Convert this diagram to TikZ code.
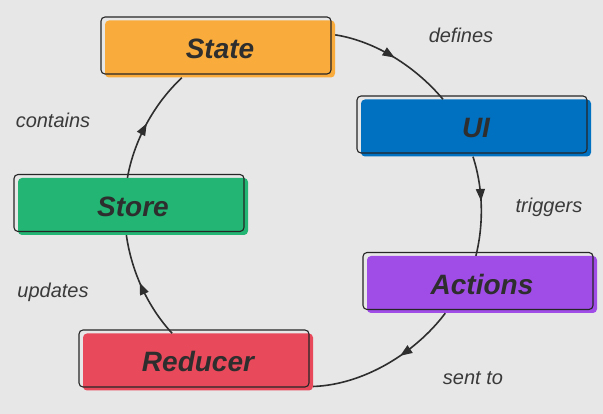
\documentclass[tikz,border=0pt]{standalone}
\usepackage{fontspec}
\setmainfont{Liberation Sans}
\usetikzlibrary{arrows.meta,decorations.markings}

\definecolor{bggrey}{HTML}{E7E7E7}
\definecolor{inkdark}{HTML}{2E2E2E}
\definecolor{verbgrey}{HTML}{3A3A3A}
\definecolor{stateorange}{HTML}{F9AC3C}
\definecolor{uiblue}{HTML}{0070C1}
\definecolor{actionpurple}{HTML}{A04DE8}
\definecolor{storegreen}{HTML}{22B573}
\definecolor{reducerred}{HTML}{E84A5B}

\begin{document}
\begin{tikzpicture}[x=1pt,y=1pt,
  box/.style={fill=#1, rounded corners=4pt, minimum width=230pt, minimum height=57pt,
    text=inkdark, font=\fontsize{28}{30}\selectfont\bfseries\itshape,
    postaction={draw=black!85, line width=1.1pt, fill=none,
      transform canvas={xshift=-4pt,yshift=3.5pt}}},
  verb/.style={font=\fontsize{20}{22}\selectfont\itshape, text=verbgrey},
  flow/.style={draw=inkdark, line width=1.6pt, looseness=0.85, postaction={decorate},
    decoration={markings, mark=at position #1 with {\arrow{Triangle[length=12pt,width=9pt]}}}},
  flow/.default=0.5]

\fill [bggrey] (0,0) rectangle (603,414);
\useasboundingbox (0,0) rectangle (603,414);

\node[box=stateorange] (state) at (220,365) {State};
\node[box=uiblue] (ui) at (476,286) {UI};
\node[box=actionpurple] (actions) at (482,129.5) {Actions};
\node[box=reducerred] (reducer) at (198,52) {Reducer};
\node[box=storegreen] (store) at (133,207.5) {Store};

\node[verb] (defines) at (461,379) {defines};
\node[verb] (triggers) at (549,207) {triggers};
\node[verb] (sentto) at (473,36) {sent to};
\node[verb] (updates) at (53,122) {updates};
\node[verb] (contains) at (53,294) {contains};

\draw[flow] (state.7) to[out=-9,in=130] (ui.139);
\draw[flow=0.45] (ui.264) to[out=-72,in=76] (actions.102);
\draw[flow=0.4] (actions.218) to[out=-127,in=2] (reducer.348);
\draw[flow=0.55] (reducer.132) to[out=133,in=278] (store.257);
\draw[flow] (store.101) to[out=80,in=223] (state.217);

\end{tikzpicture}
\end{document}
